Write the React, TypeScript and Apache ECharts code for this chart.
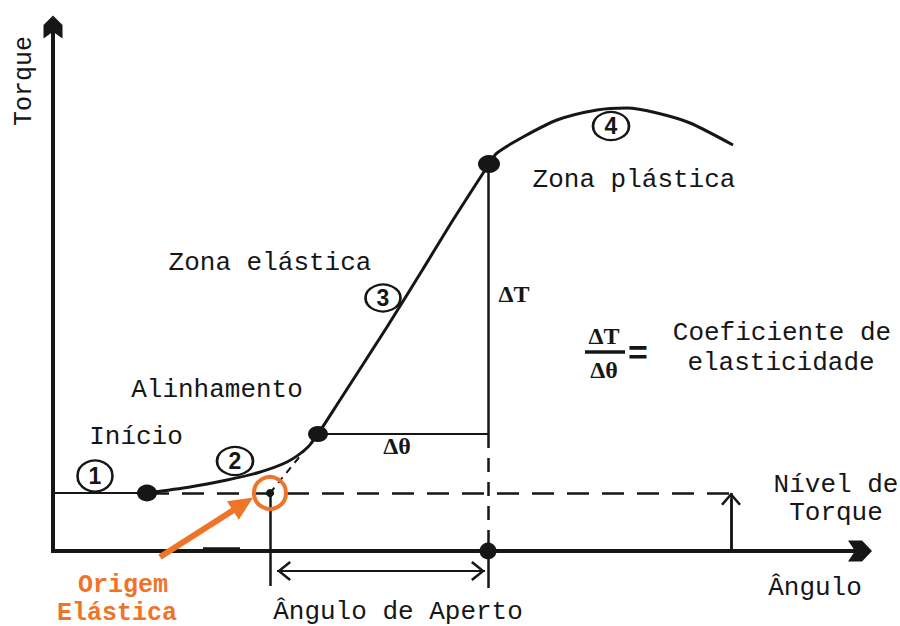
import React, { useEffect, useRef } from 'react';
import * as echarts from 'echarts';

// ---- Data (angle = x, torque = y, arbitrary units) ----
const curveAngle = [94, 137, 174, 204, 234, 254, 265, 287, 334, 370, 400, 436, 444, 470, 504, 544, 574, 604, 637, 680];
const curveTorque = [58, 64, 71, 78, 89, 103, 117, 151, 224, 282, 331, 387, 398, 414, 431, 441, 443, 438, 428, 406];

const keyAngle = [94, 265, 436, 435, 217];
const keyTorque = [58, 117, 387, 0, 58];

const stageLabels = ['1', '2', '3', '4'];
const stageAngle = [42, 182, 330, 558];
const stageTorque = [75, 90, 253, 425];

const torqueLevel = 58;
const alignTorque = 117;
const plasticTorque = 387;
const originAngle = 217;
const alignAngle = 265;
const plasticAngle = 435;

const monoTexts = ['Zona elástica', 'Zona plástica', 'Alinhamento', 'Início', 'Coeficiente de', 'elasticidade', 'Nível de', 'Torque', 'Ângulo', 'Ângulo de Aperto'];
const monoX = [217, 581, 164, 83, 729, 728, 783, 783, 762, 345];
const monoY = [288, 371, 161, 114, 218, 188, 66, 38, -37, -61];

const orangeTexts = ['Origem', 'Elástica'];
const orangeX = [70, 64];
const orangeY = [-34, -62];

const serifTexts = ['ΔT', 'Δθ', 'ΔT', 'Δθ'];
const serifX = [461, 344, 551, 551];
const serifY = [257, 105, 215, 181];
const equalsX = [585];
const equalsY = [199];

const INK = '#161616';
const ORANGE = '#EF7428';
const MONO = "'Courier New', 'Liberation Mono', monospace";
const SERIF = "'Times New Roman', 'Liberation Serif', serif";

const CHEVRON = 'path://M10,0 L20,10 L20,24 L10,17 L0,24 L0,10 Z';
const OPEN_V = 'path://M0,12 L10,0 L20,12 L18,13.6 L10,3.8 L2,13.6 Z';

type Pt = [number, number];
function seg(a: Pt, b: Pt, style: any, toSym?: any, fromSym?: any) {
  return [
    { coord: a, lineStyle: { color: INK, type: 'solid', opacity: 1, ...style }, ...(fromSym || {}) },
    { coord: b, ...(toSym || {}) },
  ];
}

function textSeries(names: string[], xs: number[], ys: number[], label: any) {
  return {
    type: 'scatter',
    silent: true,
    symbolSize: 1,
    itemStyle: { color: 'rgba(0,0,0,0)', opacity: 1 },
    label: { show: true, position: 'inside', formatter: '{b}', opacity: 1, ...label },
    data: names.map((n, i) => ({ name: n, value: [xs[i], ys[i]] })),
    z: 5,
  };
}

export default function App() {
  const ref = useRef<HTMLDivElement>(null);
  useEffect(() => {
    document.body.style.margin = '0';
    if (!ref.current) return;
    const chart = echarts.init(ref.current, undefined, { renderer: 'svg' });

    const blackLines = [
      seg([-2, 0], [807, 0], { width: 4 }, { symbol: CHEVRON, symbolSize: [21, 24] }),
      seg([0, -2], [0, 524], { width: 4 }, { symbol: CHEVRON, symbolSize: [19, 23] }),
      seg([150, 2.5], [187, 2.5], { width: 3.5 }),
      seg([0, torqueLevel], [keyAngle[0], torqueLevel], { width: 2 }),
      seg([keyAngle[0], torqueLevel], [689, torqueLevel], { width: 2.5, type: [22, 13] }),
      seg([originAngle, torqueLevel], [alignAngle, alignTorque], { width: 2, type: [7, 6] }),
      seg([alignAngle, alignTorque], [plasticAngle, alignTorque], { width: 2 }),
      seg([plasticAngle, alignTorque], [plasticAngle, plasticTorque], { width: 2.5 }),
      seg([plasticAngle, alignTorque], [plasticAngle, 0], { width: 2.5, type: [14, 10] }),
      seg([plasticAngle, 0], [plasticAngle, -37], { width: 2.5 }),
      seg([originAngle, torqueLevel], [originAngle, -35], { width: 2.5 }),
      seg([224, -20], [432, -20], { width: 2 }),
      seg([231, -20], [425, -20], { width: 2 }, { symbol: OPEN_V, symbolSize: [20, 14] }, { symbol: OPEN_V, symbolSize: [20, 14] }),
      seg([678, 0], [678, torqueLevel], { width: 2.5 }),
      seg([678, 0], [678, 52], { width: 2.5 }, { symbol: OPEN_V, symbolSize: [20, 13] }),
      seg([532, 199.5], [572, 199.5], { width: 3.5 }),
    ];

    const option: any = {
      animation: false,
      backgroundColor: '#ffffff',
      grid: { left: 0, right: 0, top: 0, bottom: 0 },
      xAxis: { type: 'value', min: -53, max: 847, show: false },
      yAxis: { type: 'value', min: -75, max: 551, show: false },
      series: [
        {
          type: 'line',
          silent: true,
          smooth: 0.25,
          symbol: 'none',
          showSymbol: false,
          lineStyle: { color: INK, width: 3, opacity: 1 },
          data: curveAngle.map((x, i) => [x, curveTorque[i]]),
          markLine: {
            silent: true,
            symbol: ['none', 'none'],
            label: { show: false },
            emphasis: { disabled: true },
            lineStyle: { color: INK, type: 'solid', opacity: 1 },
            data: blackLines,
          },
          z: 3,
        },
        {
          type: 'scatter',
          silent: true,
          itemStyle: { color: INK, opacity: 1 },
          data: keyAngle.map((x, i) => ({
            value: [x, keyTorque[i]],
            symbolSize: [[20, 17], [20, 16], [22, 18], [17, 17], [8, 8]][i],
          })),
          z: 6,
        },
        {
          type: 'scatter',
          silent: true,
          symbol: 'circle',
          itemStyle: { color: 'rgba(255,255,255,0)', borderColor: INK, borderWidth: 2.4, opacity: 1 },
          label: {
            show: true, position: 'inside', formatter: '{b}', opacity: 1,
            color: INK, fontSize: 23, fontWeight: 'bold', fontFamily: "'Liberation Sans', Arial, sans-serif",
          },
          data: stageLabels.map((n, i) => ({
            name: n,
            value: [stageAngle[i], stageTorque[i]],
            symbolSize: [[35, 31], [36, 28], [35, 27], [36, 28]][i],
          })),
          z: 6,
        },
        {
          type: 'scatter',
          silent: true,
          symbol: 'circle',
          symbolSize: 32,
          itemStyle: { color: 'rgba(255,255,255,0)', borderColor: ORANGE, borderWidth: 4, opacity: 1 },
          data: [[originAngle, torqueLevel]],
          markLine: {
            silent: true,
            symbol: ['none', 'none'],
            label: { show: false },
            emphasis: { disabled: true },
            lineStyle: { color: ORANGE, type: 'solid', opacity: 1 },
            data: [
              [
                { coord: [107, -6], lineStyle: { color: ORANGE, width: 6, type: 'solid', opacity: 1 } },
                { coord: [190, 47], symbol: 'triangle', symbolSize: [22, 24] },
              ],
            ],
          },
          z: 7,
        },
        textSeries(monoTexts, monoX, monoY, { color: INK, fontSize: 26, fontFamily: MONO }),
        textSeries(['Torque'], [-29], [470], { color: INK, fontSize: 25, fontFamily: MONO, rotate: 90 }),
        textSeries(orangeTexts, orangeX, orangeY, { color: ORANGE, fontSize: 25, fontWeight: 'bold', fontFamily: MONO }),
        textSeries(serifTexts, serifX, serifY, { color: INK, fontSize: 24, fontWeight: 'bold', fontFamily: SERIF }),
        textSeries(['='], equalsX, equalsY, { color: INK, fontSize: 34, fontWeight: 'bold', fontFamily: "'Liberation Sans', Arial, sans-serif" }),
      ],
    };
    chart.setOption(option);
    return () => chart.dispose();
  }, []);
  return <div ref={ref} style={{ position: 'fixed', left: 0, top: 0, width: 900, height: 626, background: '#fff' }} />;
}
